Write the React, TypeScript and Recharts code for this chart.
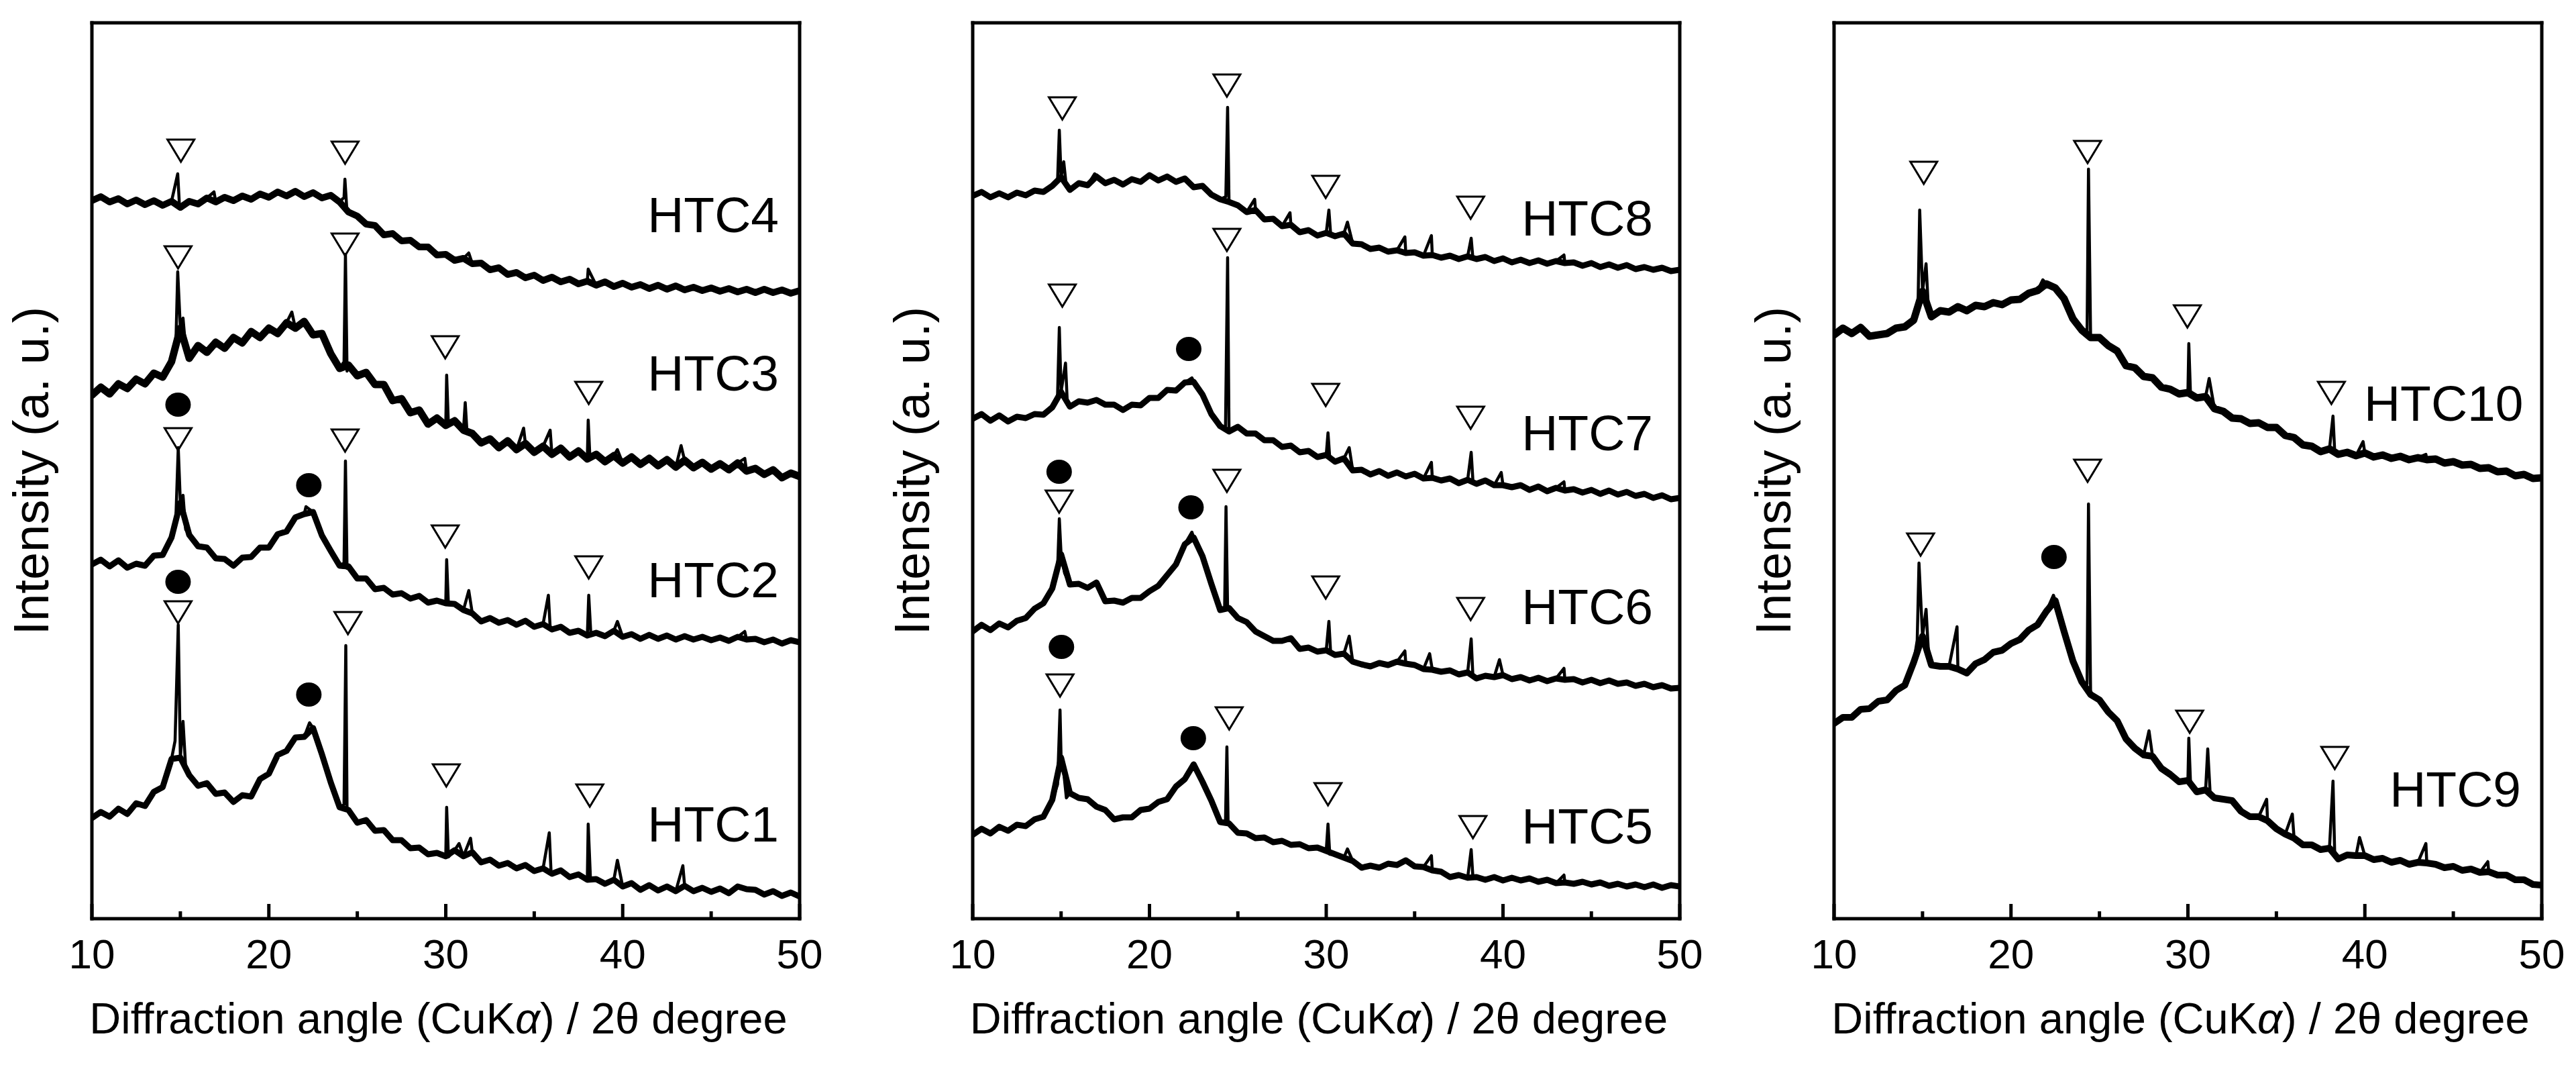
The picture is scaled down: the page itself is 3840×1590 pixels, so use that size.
import React from 'react';
import { ComposedChart, Line, Scatter, XAxis, YAxis, Label } from 'recharts';

const FONT = '"Liberation Sans", Arial, Helvetica, sans-serif';

const X_DOMAIN = [10, 50];
const Y_DOMAIN = [0, 133.5];
const X_TICKS = [10, 15, 20, 25, 30, 35, 40, 45, 50];

// 2θ grid for the broad background of every pattern
const X_GRID = [
  10, 10.5, 11, 11.5, 12, 12.5, 13, 13.5, 14, 14.5,
  15, 15.5, 16, 16.5, 17, 17.5, 18, 18.5, 19, 19.5,
  20, 20.5, 21, 21.5, 22, 22.5, 23, 23.5, 24, 24.5,
  25, 25.5, 26, 26.5, 27, 27.5, 28, 28.5, 29, 29.5,
  30, 30.5, 31, 31.5, 32, 32.5, 33, 33.5, 34, 34.5,
  35, 35.5, 36, 36.5, 37, 37.5, 38, 38.5, 39, 39.5,
  40, 40.5, 41, 41.5, 42, 42.5, 43, 43.5, 44, 44.5,
  45, 45.5, 46, 46.5, 47, 47.5, 48, 48.5, 49, 49.5,
  50,
];

// ---------- panel 1 ----------
const HTC1_Y = [
  15.0, 15.9, 15.2, 16.4, 15.6, 17.2, 16.8, 18.9, 19.6, 23.8,
  24.0, 21.4, 19.8, 20.2, 18.6, 18.8, 17.4, 18.4, 18.2, 20.8,
  21.6, 24.4, 25.0, 27.0, 27.1, 28.4, 24.5, 20.3, 16.6, 16.2,
  14.3, 14.7, 13.1, 13.2, 11.7, 11.7, 10.5, 10.6, 9.6, 9.8,
  9.3, 10.2, 9.3, 9.9, 8.4, 8.8, 7.9, 8.3, 7.5, 8.0,
  7.1, 7.5, 6.7, 7.2, 6.2, 6.6, 5.8, 5.9, 5.2, 5.8,
  4.8, 5.3, 4.3, 5.0, 4.2, 4.8, 4.1, 4.9, 4.1, 4.6,
  4.0, 4.5, 3.8, 4.8, 4.4, 4.3, 3.6, 4.1, 3.4, 3.9,
  3.3,
];
const HTC1_PEAKS = [
  [14.7, 26.5], [14.88, 43.8], [15.15, 29.4], [15.3, 22.5], [22.3, 29.2],
  [24.25, 17.0], [24.35, 40.7], [24.42, 16.4], [30.05, 16.6], [30.15, 9.2],
  [30.75, 11.2], [31.4, 12.0], [35.85, 12.8], [35.95, 7.0], [38.05, 14.1],
  [38.18, 5.8], [39.7, 8.7], [43.4, 7.9],
];

const HTC2_Y = [
  52.8, 53.5, 52.5, 53.4, 52.3, 52.9, 52.6, 54.1, 54.2, 56.8,
  62.0, 57.2, 55.5, 55.3, 53.7, 53.6, 52.6, 53.8, 53.9, 55.3,
  55.3, 57.3, 57.7, 59.8, 60.3, 60.6, 57.1, 54.8, 52.6, 52.5,
  50.7, 50.7, 49.1, 49.3, 48.3, 48.5, 47.7, 48.1, 47.1, 47.4,
  47.0, 46.9, 46.0, 45.5, 44.3, 44.8, 44.1, 44.5, 43.8, 44.4,
  43.5, 43.9, 43.1, 43.5, 42.6, 42.9, 42.2, 42.6, 42.1, 42.9,
  42.0, 42.4, 41.7, 42.3, 41.7, 42.2, 41.6, 42.1, 41.6, 42.0,
  41.5, 41.9, 41.4, 42.0, 41.6, 41.7, 41.2, 41.6, 41.0, 41.5,
  41.2,
];
const HTC2_PEAKS = [
  [14.75, 60.0], [14.88, 70.2], [15.15, 63.1], [15.3, 58.0], [22.1, 61.4],
  [24.25, 53.0], [24.33, 68.2], [24.42, 52.2], [30.05, 53.5], [30.15, 46.8],
  [31.3, 48.9], [35.8, 48.2], [35.9, 43.4], [38.08, 48.2], [38.2, 42.4],
  [39.7, 44.3], [46.9, 42.8],
];

const HTC3_Y = [
  78.0, 79.2, 78.2, 79.7, 79.0, 80.4, 79.7, 81.3, 80.7, 83.0,
  88.0, 83.5, 85.4, 84.4, 85.9, 85.0, 86.6, 85.8, 87.5, 86.6,
  88.0, 87.2, 88.8, 88.0, 89.0, 87.0, 87.2, 84.2, 82.0, 82.5,
  80.9, 81.4, 79.6, 79.6, 77.2, 77.5, 75.4, 75.8, 73.7, 74.6,
  73.5, 74.2, 72.8, 72.3, 70.9, 71.5, 70.2, 71.2, 69.9, 70.8,
  69.5, 70.4, 69.2, 70.1, 68.8, 69.7, 68.5, 69.2, 68.1, 69.0,
  67.9, 68.8, 67.7, 68.6, 67.5, 68.4, 67.3, 68.3, 67.2, 68.0,
  67.0, 67.8, 66.9, 67.9, 66.7, 67.1, 66.2, 66.9, 65.7, 66.4,
  65.9,
];
const HTC3_PEAKS = [
  [14.75, 86.0], [14.85, 96.4], [15.15, 89.5], [15.3, 85.0], [21.3, 90.4],
  [24.25, 83.0], [24.33, 99.0], [24.42, 81.6], [30.05, 81.0], [30.15, 73.6],
  [31.1, 76.9], [31.2, 72.5], [34.4, 73.1], [35.9, 72.8], [38.05, 74.3],
  [38.15, 68.6], [39.7, 69.9], [43.3, 70.5], [46.9, 68.6],
];

const HTC4_Y = [
  107.0, 107.6, 106.8, 107.3, 106.5, 107.1, 106.4, 107.0, 106.3, 106.9,
  106.0, 106.9, 106.5, 107.4, 106.8, 107.5, 107.0, 107.7, 107.2, 108.0,
  107.5, 108.3, 107.7, 108.4, 107.6, 108.2, 107.4, 107.8, 106.8, 105.3,
  104.7, 103.5, 103.3, 101.9, 102.1, 101.0, 101.1, 100.1, 100.1, 98.9,
  99.0, 98.1, 98.4, 97.6, 97.7, 96.7, 97.0, 96.0, 96.3, 95.5,
  95.9, 95.1, 95.6, 94.9, 95.3, 94.6, 95.0, 94.4, 94.9, 94.2,
  94.7, 94.1, 94.5, 93.9, 94.4, 93.8, 94.3, 93.7, 94.1, 93.6,
  94.0, 93.5, 93.9, 93.4, 93.8, 93.3, 93.8, 93.3, 93.7, 93.2,
  93.6,
];
const HTC4_PEAKS = [
  [14.85, 111.0], [14.95, 106.2], [16.9, 108.3], [24.25, 107.5], [24.3, 110.2],
  [24.4, 106.0], [31.3, 99.2], [38.05, 96.8],
];

// ---------- panel 2 ----------
const HTC5_Y = [
  12.5, 13.4, 12.7, 13.7, 13.1, 14.0, 13.8, 14.8, 15.2, 17.7,
  24.0, 18.7, 18.0, 17.8, 16.7, 16.2, 14.8, 15.1, 15.1, 16.2,
  16.4, 17.4, 17.8, 19.7, 20.8, 23.0, 20.4, 17.6, 14.4, 14.2,
  12.8, 12.7, 12.0, 12.1, 11.4, 11.6, 11.0, 11.1, 10.5, 10.6,
  10.1, 9.6, 9.1, 8.6, 7.6, 7.9, 7.6, 8.2, 8.0, 8.7,
  7.8, 7.7, 7.2, 7.0, 6.2, 6.5, 6.1, 6.2, 5.8, 6.2,
  5.7, 6.1, 5.7, 6.0, 5.5, 5.8, 5.3, 5.4, 5.2, 5.5,
  5.1, 5.4, 4.9, 5.2, 4.8, 5.1, 4.7, 5.1, 4.6, 5.0,
  4.8,
];
const HTC5_PEAKS = [
  [14.8, 20.0], [14.94, 31.1], [15.15, 21.8], [15.3, 18.0], [24.3, 14.4],
  [24.38, 25.6], [24.45, 14.0], [30.1, 14.1], [30.2, 9.6], [31.2, 10.4],
  [35.95, 9.4], [38.2, 10.3], [38.3, 6.1], [43.45, 6.5],
];

const HTC6_Y = [
  42.8, 43.8, 43.0, 44.0, 43.4, 44.4, 44.8, 46.2, 47.0, 49.2,
  54.3, 49.8, 49.9, 49.3, 50.1, 47.3, 47.4, 47.1, 47.8, 47.8,
  48.8, 49.6, 51.2, 52.8, 55.8, 56.8, 54.0, 49.9, 46.0, 46.3,
  44.8, 44.2, 42.8, 42.1, 41.4, 41.4, 41.8, 40.2, 40.4, 39.8,
  40.0, 39.3, 39.5, 38.3, 37.9, 37.6, 38.1, 37.8, 38.3, 38.0,
  37.8, 37.2, 37.1, 36.8, 37.0, 36.4, 36.7, 35.8, 36.2, 36.0,
  36.3, 35.7, 36.0, 35.5, 35.9, 35.4, 35.8, 35.6, 35.7, 35.2,
  35.6, 35.1, 35.5, 35.0, 35.2, 34.7, 35.0, 34.5, 34.8, 34.3,
  34.4,
];
const HTC6_PEAKS = [
  [14.8, 52.0], [14.9, 59.6], [15.2, 51.5], [22.4, 57.6], [24.25, 46.0],
  [24.33, 61.4], [24.42, 46.4], [30.15, 44.3], [30.25, 39.6], [31.3, 42.1],
  [34.45, 39.9], [35.85, 39.5], [38.2, 41.7], [38.3, 36.0], [39.8, 38.6],
  [43.45, 37.3],
];

const HTC7_Y = [
  74.5, 75.2, 74.2, 75.0, 74.1, 74.8, 74.6, 75.2, 75.1, 76.2,
  78.5, 76.3, 77.1, 76.9, 77.3, 76.6, 76.6, 75.8, 76.6, 76.5,
  77.6, 77.6, 78.8, 78.7, 79.9, 80.0, 78.1, 75.2, 73.4, 72.6,
  73.3, 72.3, 72.3, 71.3, 71.3, 70.3, 70.5, 69.5, 69.7, 68.8,
  69.1, 68.1, 68.6, 66.8, 66.9, 66.2, 66.7, 66.0, 66.5, 65.9,
  66.3, 65.6, 65.7, 65.3, 65.6, 64.9, 65.4, 64.8, 65.3, 64.6,
  64.6, 64.3, 64.6, 63.9, 64.4, 63.7, 64.2, 63.8, 64.0, 63.5,
  63.9, 63.3, 63.8, 63.2, 63.6, 63.0, 63.3, 62.7, 63.1, 62.5,
  62.7,
];
const HTC7_PEAKS = [
  [14.8, 78.0], [14.9, 88.1], [15.25, 82.8], [15.35, 77.0], [22.4, 80.6],
  [24.3, 73.0], [24.42, 98.5], [30.1, 72.4], [30.2, 68.6], [31.3, 70.2],
  [35.95, 68.0], [38.2, 69.5], [38.3, 65.2], [39.9, 66.5], [43.45, 65.1],
];

const HTC8_Y = [
  107.7, 108.3, 107.5, 108.1, 107.5, 108.2, 107.8, 108.5, 108.3, 109.2,
  110.5, 108.6, 109.6, 109.3, 110.6, 109.6, 110.1, 109.4, 110.2, 109.8,
  110.8, 110.0, 110.6, 109.8, 110.3, 109.0, 109.2, 107.9, 107.2, 106.8,
  106.3, 105.3, 105.6, 104.2, 104.3, 103.2, 103.4, 102.3, 102.6, 101.8,
  102.2, 101.7, 102.1, 100.6, 100.5, 99.8, 100.0, 99.4, 99.6, 99.2,
  99.3, 98.8, 98.9, 98.5, 98.8, 98.3, 98.7, 98.3, 98.6, 98.0,
  98.4, 97.8, 98.2, 97.7, 98.1, 97.6, 98.0, 97.7, 97.8, 97.3,
  97.7, 97.1, 97.5, 97.0, 97.4, 96.8, 97.1, 96.7, 97.0, 96.5,
  96.7,
];
const HTC8_PEAKS = [
  [14.8, 110.0], [14.9, 117.5], [15.15, 112.8], [15.3, 109.0], [16.9, 111.0],
  [24.32, 107.6], [24.42, 120.9], [25.95, 107.2], [27.95, 105.2], [30.15, 105.6],
  [30.25, 102.0], [31.2, 103.8], [34.45, 101.6], [35.95, 101.8], [38.2, 101.4],
  [38.3, 98.3], [43.45, 98.9],
];

// ---------- panel 3 ----------
const HTC9_Y = [
  29.1, 30.0, 30.0, 31.2, 31.3, 32.4, 32.6, 34.0, 34.8, 38.2,
  42.1, 37.8, 37.6, 37.6, 37.2, 36.6, 38.0, 38.6, 39.7, 40.0,
  41.0, 41.6, 43.0, 43.8, 45.8, 47.4, 42.8, 38.4, 35.3, 33.4,
  32.6, 30.8, 29.5, 26.8, 25.4, 24.4, 24.2, 22.4, 21.5, 20.4,
  20.6, 18.9, 19.2, 18.0, 17.8, 17.6, 16.0, 15.2, 15.2, 14.6,
  13.4, 12.6, 12.0, 11.0, 11.0, 10.3, 10.5, 8.9, 9.5, 9.4,
  9.4, 8.8, 9.0, 8.4, 8.7, 8.1, 8.4, 8.3, 8.1, 7.6,
  7.8, 7.2, 7.4, 6.9, 7.0, 6.5, 6.5, 5.8, 5.8, 5.1,
  5.0,
];
const HTC9_PEAKS = [
  [14.7, 41.5], [14.8, 53.0], [15.2, 46.1], [15.35, 39.0], [16.95, 43.5],
  [22.4, 48.2], [24.3, 35.0], [24.38, 61.8], [27.8, 28.0], [30.05, 26.9],
  [30.15, 20.0], [31.12, 25.3], [31.25, 19.0], [34.45, 17.8], [35.9, 15.6],
  [38.2, 20.5], [38.3, 9.2], [39.7, 12.1], [43.45, 11.2], [46.95, 8.5],
];

const HTC10_Y = [
  87.0, 88.0, 87.2, 88.1, 86.8, 87.0, 87.2, 88.0, 88.2, 89.2,
  93.5, 89.7, 90.6, 90.4, 91.2, 90.6, 91.4, 91.2, 91.8, 91.5,
  92.2, 92.3, 93.2, 93.6, 94.6, 94.0, 92.4, 89.4, 87.7, 86.6,
  86.6, 85.4, 84.6, 82.4, 82.1, 80.8, 80.6, 79.2, 78.9, 78.2,
  78.4, 77.6, 77.8, 76.0, 75.6, 74.6, 74.5, 73.8, 73.9, 73.2,
  73.2, 72.0, 71.7, 70.6, 70.4, 69.6, 70.0, 69.2, 69.5, 69.0,
  69.4, 68.8, 69.1, 68.6, 68.9, 68.4, 68.7, 68.4, 68.5, 67.9,
  68.1, 67.6, 67.7, 67.1, 67.2, 66.6, 66.7, 66.0, 66.2, 65.6,
  65.7,
];
const HTC10_PEAKS = [
  [14.75, 92.0], [14.84, 105.6], [15.2, 97.6], [15.35, 90.0], [21.8, 95.2],
  [24.3, 87.2], [24.38, 111.7], [30.05, 85.7], [30.15, 77.8], [31.2, 80.5],
  [38.2, 74.9], [38.3, 69.4], [39.9, 71.1], [43.45, 69.2],
];

// ---------- peak markers ([2θ, height]) ----------
const TRI_P1 = [
  [15.03, 114.5], [24.31, 114.2],
  [14.87, 98.6], [24.31, 100.5], [29.97, 85.2], [38.08, 78.4],
  [14.87, 71.5], [24.31, 71.3], [29.97, 57.0], [38.08, 52.4],
  [14.87, 45.7], [24.47, 44.1], [30.03, 21.4], [38.14, 18.4],
];
const DOT_P1 = [[14.87, 76.6], [22.26, 64.6], [14.87, 50.2], [22.26, 33.4]];
const TRI_P2 = [
  [15.07, 120.8], [24.38, 124.2], [29.97, 109.1], [38.17, 106.0],
  [15.07, 92.9], [24.38, 101.2], [29.97, 78.1], [38.17, 74.7],
  [14.89, 62.2], [24.38, 65.3], [29.97, 49.4], [38.17, 46.2],
  [14.94, 34.8], [24.51, 29.9], [30.1, 18.6], [38.3, 13.7],
];
const DOT_P2 = [[22.22, 84.9], [14.89, 66.6], [22.35, 61.3], [15.02, 40.5], [22.48, 26.9]];
const TRI_P3 = [
  [15.07, 111.2], [24.33, 114.3], [29.97, 89.8], [38.11, 78.4],
  [14.89, 55.8], [24.33, 66.8], [30.1, 29.4], [38.3, 24.0],
];
const DOT_P3 = [[22.43, 53.9]];

// ---------- sample labels ([name, 2θ, height]) ----------
const LABELS_P1 = [['HTC4', 41.4, 102.3], ['HTC3', 41.4, 78.7], ['HTC2', 41.4, 47.9], ['HTC1', 41.4, 11.5]];
const LABELS_P2 = [['HTC8', 41.05, 101.8], ['HTC7', 41.05, 69.8], ['HTC6', 41.05, 43.9], ['HTC5', 41.05, 11.2]];
const LABELS_P3 = [['HTC10', 39.95, 74.2], ['HTC9', 41.4, 16.7]];

// background band: grid points only; full trace: grid + sharp reflections
function buildBand(ys: number[]) {
  return X_GRID.map((x, i) => ({ x, y: ys[i] }));
}
function buildSeries(ys: number[], peaks: number[][]) {
  const pts = buildBand(ys);
  peaks.forEach(([x, y]) => pts.push({ x, y }));
  pts.sort((a, b) => a.x - b.x);
  return pts;
}
const toPoints = (arr: number[][]) => arr.map(([x, y]) => ({ x, y }));
const toLabels = (arr: any[]) => arr.map(([name, x, y]) => ({ name, x, y }));
const pattern = (ys: number[], peaks: number[][], band: number) => ({
  band: buildBand(ys), full: buildSeries(ys, peaks), bw: band,
});

const PANELS = [
  {
    left: 0, width: 1300, yw: 137, mr: 107,
    series: [pattern(HTC1_Y, HTC1_PEAKS, 9), pattern(HTC2_Y, HTC2_PEAKS, 9), pattern(HTC3_Y, HTC3_PEAKS, 11), pattern(HTC4_Y, HTC4_PEAKS, 10)],
    tri: toPoints(TRI_P1), dot: toPoints(DOT_P1), labels: toLabels(LABELS_P1),
  },
  {
    left: 1300, width: 1280, yw: 150, mr: 75,
    series: [pattern(HTC5_Y, HTC5_PEAKS, 9), pattern(HTC6_Y, HTC6_PEAKS, 9), pattern(HTC7_Y, HTC7_PEAKS, 9), pattern(HTC8_Y, HTC8_PEAKS, 9)],
    tri: toPoints(TRI_P2), dot: toPoints(DOT_P2), labels: toLabels(LABELS_P2),
  },
  {
    left: 2580, width: 1260, yw: 154, mr: 50,
    series: [pattern(HTC9_Y, HTC9_PEAKS, 10), pattern(HTC10_Y, HTC10_PEAKS, 11)],
    tri: toPoints(TRI_P3), dot: toPoints(DOT_P3), labels: toLabels(LABELS_P3),
  },
];

const FRAME = { stroke: '#000', strokeWidth: 5, strokeLinecap: 'square' as const };

const XTick = (props: any) => {
  const { x, y, payload } = props;
  const v = payload.value;
  const major = v % 10 === 0;
  return (
    <g>
      <line x1={x} x2={x} y1={y} y2={y - (major ? 22 : 11)} stroke="#000" strokeWidth={5} />
      {major && (
        <text x={x} y={y + 74} textAnchor="middle" fontSize={62} fontFamily={FONT} fill="#000">
          {v}
        </text>
      )}
    </g>
  );
};

const XTitle = (props: any) => {
  const vb = props.viewBox;
  return (
    <text x={vb.x + vb.width / 2 - 11} y={vb.y + 171} textAnchor="middle" fontSize={65} fontFamily={FONT} fill="#000">
      Diffraction angle (CuK<tspan fontStyle="italic">α</tspan>) / 2θ degree
    </text>
  );
};

const YTitle = (props: any) => {
  const vb = props.viewBox;
  const x = vb.x + vb.width - 65;
  const y = vb.y + vb.height / 2;
  return (
    <text x={x} y={y} transform={`rotate(-90, ${x}, ${y})`} textAnchor="middle" fontSize={74} fontFamily={FONT} fill="#000">
      Intensity (a. u.)
    </text>
  );
};

const TriShape = (props: any) => {
  const { cx, cy } = props;
  return (
    <path d={`M${cx - 20},${cy - 16}L${cx + 20},${cy - 16}L${cx},${cy + 17}Z`} fill="none" stroke="#000" strokeWidth={3} />
  );
};
const DotShape = (props: any) => {
  const { cx, cy } = props;
  return <ellipse cx={cx} cy={cy} rx={19} ry={18} fill="#000" />;
};
const LabelShape = (props: any) => {
  const { cx, cy, payload } = props;
  return (
    <text x={cx} y={cy} fontSize={75} fontFamily={FONT} fill="#000">
      {payload.name}
    </text>
  );
};

export default function App() {
  return (
    <div style={{ position: 'absolute', left: 0, top: 0, width: 3840, height: 1590, background: '#fff', overflow: 'hidden' }}>
      {PANELS.map((p, i) => (
        <div key={i} style={{ position: 'absolute', left: p.left, top: 0 }}>
          <ComposedChart width={p.width} height={1590} margin={{ top: 33, right: p.mr, bottom: 0, left: 0 }}>
            <XAxis
              dataKey="x" type="number" domain={X_DOMAIN} ticks={X_TICKS} interval={0}
              tickSize={0} tickMargin={0} tickLine={false} axisLine={FRAME} height={221}
              tick={<XTick />} allowDataOverflow
            >
              <Label content={XTitle} />
            </XAxis>
            <XAxis
              xAxisId="top" orientation="top" dataKey="x" type="number" domain={X_DOMAIN}
              height={1} tick={false} tickLine={false} axisLine={FRAME} allowDataOverflow
            />
            <YAxis
              dataKey="y" type="number" domain={Y_DOMAIN} width={p.yw}
              tick={false} tickLine={false} axisLine={FRAME} allowDataOverflow
            >
              <Label content={YTitle} />
            </YAxis>
            <YAxis
              yAxisId="right" orientation="right" dataKey="y" type="number" domain={Y_DOMAIN} width={1}
              tick={false} tickLine={false} axisLine={FRAME} allowDataOverflow
            />
            {p.series.map((s, j) => (
              <Line
                key={`b${j}`} data={s.band} dataKey="y" type="linear" stroke="#000" strokeWidth={s.bw}
                strokeLinejoin="round" strokeLinecap="round" dot={false} activeDot={false} isAnimationActive={false}
              />
            ))}
            {p.series.map((s, j) => (
              <Line
                key={`f${j}`} data={s.full} dataKey="y" type="linear" stroke="#000" strokeWidth={4.5}
                strokeLinejoin="round" dot={false} activeDot={false} isAnimationActive={false}
              />
            ))}
            <Scatter data={p.tri} dataKey="y" shape={TriShape} isAnimationActive={false} />
            <Scatter data={p.dot} dataKey="y" shape={DotShape} isAnimationActive={false} />
            <Scatter data={p.labels} dataKey="y" shape={LabelShape} isAnimationActive={false} />
          </ComposedChart>
        </div>
      ))}
    </div>
  );
}
